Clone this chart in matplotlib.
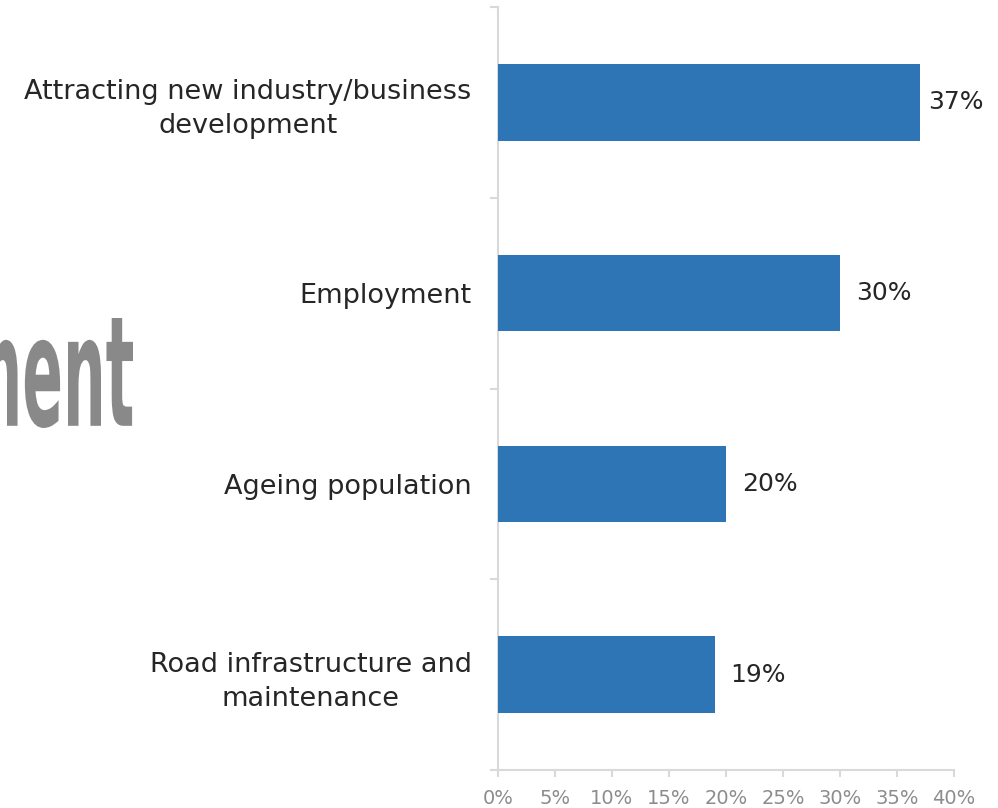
import matplotlib.pyplot as plt
import numpy as np
from matplotlib.font_manager import FontProperties
from matplotlib.patches import PathPatch
from matplotlib.textpath import TextPath
from matplotlib.transforms import Affine2D

categories = [
    "Attracting new industry/business\ndevelopment",
    "Employment",
    "Ageing population",
    "Road infrastructure and\nmaintenance",
]
values = [37, 30, 20, 19]
x_ticks = [0, 5, 10, 15, 20, 25, 30, 35, 40]

bar_color = "#2E75B6"
text_color = "#262626"
grid_gray = "#D9D9D9"
tick_gray = "#8C8C8C"

fig = plt.figure(figsize=(9.98, 8.08), dpi=100)
W, H = 998, 808

# faint heading fragment sitting behind the left side
prop = FontProperties(family="DejaVu Sans", weight="bold")
tp = TextPath((0, 0), "ment", prop=prop, size=100)
ext = tp.get_extents()
sx = 0.6
sy = 110 / ext.height
tr = Affine2D().translate(-ext.x1, -ext.y0).scale(sx, sy).translate(133, H - 428)
fig.patches.append(PathPatch(tr.transform_path(tp), facecolor="#898989", edgecolor="none",
                             transform=None, zorder=0))

ax = fig.add_axes([498 / W, 1 - 770 / H, (954 - 498) / W, (770 - 7) / H])
n = len(categories)
pos = np.arange(n)[::-1]
ax.barh(pos, values, height=0.4, color=bar_color, zorder=3)
for p, v in zip(pos, values):
    ax.text(min(v + 1.4, 37.7), p, f"{v}%", va="center", ha="left", fontsize=18, color=text_color)

ax.set_xlim(0, 40)
ax.set_ylim(-0.5, n - 0.5)
ax.set_xticks(x_ticks)
ax.set_xticklabels([f"{t}%" for t in x_ticks], fontsize=14, color=tick_gray)
ax.tick_params(axis="x", length=5, color=grid_gray, width=1.5, pad=9)

ax.set_yticks(np.arange(n + 1) - 0.5)
ax.set_yticklabels([])
ax.tick_params(axis="y", which="major", length=6, color=grid_gray, width=1.5)
ax.set_yticks(pos, minor=True)
ax.set_yticklabels(categories, minor=True, fontsize=19.5, color=text_color,
                   ha="right", multialignment="center", linespacing=1.4)
ax.tick_params(axis="y", which="minor", length=0, pad=19)

for side in ["top", "right"]:
    ax.spines[side].set_visible(False)
for side in ["left", "bottom"]:
    ax.spines[side].set_color(grid_gray)
    ax.spines[side].set_linewidth(1.5)

fig.savefig("out.png", dpi=100)
